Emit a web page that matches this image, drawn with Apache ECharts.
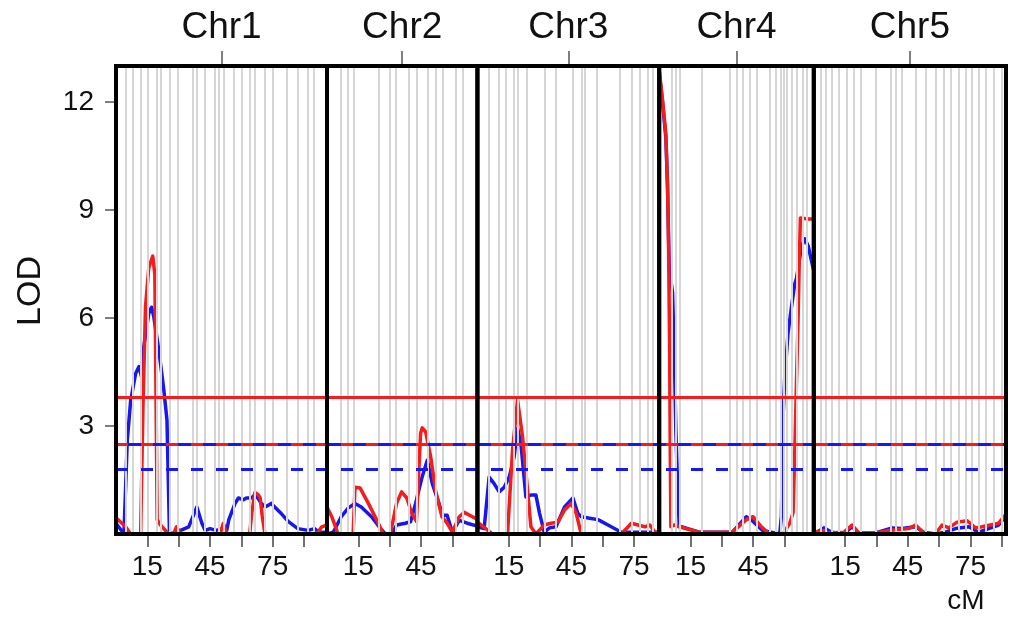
<!DOCTYPE html>
<html>
<head>
<meta charset="utf-8">
<script src="https://cdn.jsdelivr.net/npm/echarts@6/dist/echarts.min.js"></script>
<style>
  html, body { margin: 0; padding: 0; background: #fff; }
  #chart { width: 1012px; height: 617px; }
</style>
</head>
<body>
<div id="chart"></div>
<script>
// Chromosomes and their genetic lengths (cM)
const chrNames = ['Chr1', 'Chr2', 'Chr3', 'Chr4', 'Chr5'];
const chrLengths = [101, 72, 87, 74, 92];

// Axis ticks
const cmTicks = [15, 30, 45, 60, 75, 90];
const cmLabels = [15, 45, 75];
const lodTicks = [3, 6, 9, 12];
const lodMax = 13;

// Significance thresholds: [solid, dashed]
const thresholdsRed = [3.8, 2.5];
const thresholdsBlue = [2.5, 1.8];

// Marker positions (cM) per chromosome
const markersChr1 = [4.6, 8.1, 11.8, 15.4, 19.7, 21.6, 25.6, 29.5, 36.8, 38.7, 42.4, 47.5, 49.4, 51.4, 56.2, 60.1, 64.1, 66.2, 71.3, 75.2, 81.6, 87.1, 91.9, 94.8];
const markersChr2 = [6.6, 9.8, 13, 25, 29.8, 32.7, 39.1, 43.1, 48, 52, 55.2, 61.4, 64.9];
const markersChr3 = [5.6, 10.4, 13.6, 17.6, 19.2, 23.7, 32, 37.6, 45.7, 49.7, 51.3, 56.9, 68.1, 73.7, 77.8, 81.7, 84.1];
const markersChr4 = [6.1, 8, 10, 20.5, 34, 37.2, 40, 43.3, 46.8, 52.9, 55.8, 58, 59.6, 61.2, 63.3, 65.7, 68.9, 70.8];
const markersChr5 = [3.2, 5.6, 8.8, 12, 15.9, 19.1, 22.3, 29.5, 36.7, 39.1, 42.2, 48.7, 53.4, 58.2, 62.2, 65.4, 69.4, 72.6, 75.8, 79, 82.2, 86.1, 90.1];

// LOD profiles, [cM, LOD]
const blueChr1 = [[0,0.3],[3.8,0],[5.4,2.6],[7,3.7],[9.4,4.46],[11,4.65],[12.2,4.37],[13.3,5.2],[15.7,6.13],[17,6.3],[18.1,6.03],[20.5,5.1],[22.9,4.0],[24.4,3.16],[25.6,0],[29,0.05],[34.8,0.2],[38.7,0.75],[41.1,0.3],[42.7,0.1],[45,0.15],[48,0.1],[51,0.15],[53,0.1],[54,0.4],[57,0.85],[58.6,1.0],[61,0.95],[62.4,1.0],[64.8,1.0],[66.7,1.1],[69.5,0.85],[71.4,0.75],[74.3,0.85],[78.6,0.6],[82.4,0.35],[87,0.15],[92,0.1],[95,0.15],[97,0.05],[101,0.05]];
const redChr1 = [[0,0.45],[4.6,0.2],[7,0],[11.8,0],[12.9,3.5],[14.1,6.3],[15.7,7.4],[17.6,7.72],[18.6,7.2],[18.9,5.4],[19.7,0.4],[21.3,0.25],[25.2,0],[27.5,0],[29,0.2],[31,0],[49.8,0],[51.4,0.3],[53,0],[64,0],[65,0.6],[66.5,1.15],[68,1.1],[69,1.0],[70,0.5],[71.3,0],[96,0],[98.5,0.2],[101,0.25]];

const blueChr2 = [[0,0],[3,0.05],[6.8,0.48],[10.1,0.72],[13.4,0.85],[16.4,0.75],[21.3,0.48],[25.5,0.16],[27.9,0],[31,0],[33.3,0.25],[37.5,0.3],[40,0.34],[42.4,0.85],[45.6,1.6],[48,2.05],[50.4,1.4],[53.6,0.85],[55.3,0.52],[57.5,0.52],[60,0.05],[63.3,0.38],[67.1,0.3],[72,0.22]];
const redChr2 = [[0,0.75],[2.5,0.45],[5.3,0],[12.5,0],[13.4,1.3],[15.8,1.28],[19.8,0.85],[23.7,0.4],[27,0],[30.3,0],[33.3,0.85],[35.7,1.17],[38.2,1.0],[40.6,0.57],[42.8,0.35],[44.8,2.8],[45.6,2.95],[47.2,2.84],[49.6,2.15],[52,1.2],[55,0.48],[57.5,0.3],[60,0.05],[63.3,0.48],[65.7,0.6],[69.6,0.48],[72,0.4]];

const blueChr3 = [[0,0.2],[3.2,0.15],[5.6,1.58],[8,1.4],[10.4,1.17],[12.8,1.3],[15.2,1.58],[17.6,2.15],[19.2,2.94],[20.8,2.52],[23.2,1.03],[25.6,1.08],[28,1.08],[29.7,0.58],[32,0.05],[34.5,0.17],[37.6,0.2],[41.7,0.75],[45.7,1.0],[48,0.58],[49.7,0.48],[53.7,0.44],[57.7,0.4],[62.5,0.25],[68.9,0.05],[80,0.05],[87,0.05]];
const redChr3 = [[0,0.33],[4,0.15],[7.2,0],[14.4,0],[16.8,2.33],[19.2,3.72],[21.6,2.7],[24,1.22],[25.6,0.2],[28,0],[32,0.25],[35.2,0.3],[38.5,0.33],[41.7,0.67],[44.9,0.85],[47.3,0.57],[49.7,0],[68.9,0],[73.7,0.3],[76.9,0.25],[80.1,0.2],[82.5,0.25],[85,0.05],[87,0.05]];

const blueChr4 = [[0,12.8],[1.6,12.0],[3.2,11.0],[4,9.6],[4.8,7.4],[6.4,6.7],[7.2,5.1],[8,2.8],[8.8,1.4],[9.6,0.2],[11,0.2],[19.2,0.05],[35,0.05],[41.7,0.48],[44.9,0.35],[49.5,0.1],[57.7,0],[58.5,0.5],[59.3,3.25],[60.1,4.36],[61.7,5.6],[63.3,6.3],[64.9,6.95],[65.7,7.1],[68.1,7.98],[69.7,8.2],[71.3,8.0],[74,7.3]];
const redChr4 = [[0,12.9],[1.6,12.05],[3.2,11.1],[4,9.7],[4.5,7.9],[5.0,5.1],[5.3,2.3],[5.6,0.2],[7.2,0.25],[9.6,0.2],[19.2,0.05],[35,0.05],[41.7,0.4],[44.9,0.48],[48.9,0.2],[52.9,0],[59.3,0],[62.5,0.3],[64.1,0.6],[64.9,2.3],[65.7,4.2],[66.5,6.0],[67.1,7.7],[67.6,8.78],[71.2,8.75],[72.1,8.8],[74,8.75]];

const blueChr5 = [[0,0],[0.8,0],[4.8,0.17],[8.6,0.05],[14.4,0],[18.3,0.2],[21.5,0.03],[29.5,0.03],[37.5,0.17],[42.1,0.15],[48.7,0.2],[52.6,0.05],[58.2,0],[63,0.05],[67.8,0.15],[74.2,0.2],[78.9,0.05],[83.7,0.15],[88.5,0.25],[92,0.5]];
const redChr5 = [[0,0.05],[4.8,0.1],[6.5,0.03],[14.4,0.05],[18.3,0.25],[21.5,0.03],[29.5,0.03],[35.9,0.1],[45.5,0.15],[48.7,0.25],[52.6,0.03],[58.2,0],[61.4,0.25],[64.6,0.17],[68.6,0.33],[73.3,0.37],[77.4,0.17],[80.5,0.2],[84.5,0.25],[88.5,0.3],[92,0.55]];

const markers = [markersChr1, markersChr2, markersChr3, markersChr4, markersChr5];
const blueLod = [blueChr1, blueChr2, blueChr3, blueChr4, blueChr5];
const redLod = [redChr1, redChr2, redChr3, redChr4, redChr5];

// Styling
const RED = '#f51c1c';
const BLUE = '#1818ee';
const FONT = '"Liberation Sans", Arial, Helvetica, sans-serif';
const plotLeft = 116, plotRight = 1006, plotTop = 66, plotBottom = 534;
const totalCm = chrLengths.reduce((a, b) => a + b, 0);
const pxPerCm = (plotRight - plotLeft) / totalCm;

const grid = [], xAxis = [], yAxis = [], series = [];
let cum = 0;
chrLengths.forEach((len, i) => {
  const left = plotLeft + cum * pxPerCm;
  cum += len;
  grid.push({
    left: left, top: plotTop, width: len * pxPerCm, height: plotBottom - plotTop,
    show: true, backgroundColor: 'transparent', borderColor: '#000', borderWidth: 4, z: 10
  });
  // bottom cM axis
  xAxis.push({
    gridIndex: i, type: 'value', min: 0, max: len, position: 'bottom',
    axisLine: { show: false }, splitLine: { show: false },
    axisTick: { show: true, length: 13, customValues: cmTicks.filter(v => v < len),
      lineStyle: { color: '#444', width: 1.5 } },
    axisLabel: { show: true, customValues: cmLabels.filter(v => v < len),
      fontSize: 28, fontFamily: FONT, color: '#111', margin: 19 }
  });
  // top chromosome label axis
  xAxis.push({
    gridIndex: i, type: 'value', min: 0, max: len, position: 'top',
    axisLine: { show: false }, splitLine: { show: false },
    axisTick: { show: true, length: 15, customValues: [len / 2],
      lineStyle: { color: '#555', width: 1.5 } },
    axisLabel: { show: true, customValues: [len / 2], formatter: () => chrNames[i],
      fontSize: 37, fontFamily: FONT, color: '#111', margin: 20 }
  });
  yAxis.push({
    gridIndex: i, type: 'value', min: 0, max: lodMax,
    axisLine: { show: false }, splitLine: { show: false },
    axisTick: { show: i === 0, length: 11, customValues: lodTicks,
      lineStyle: { color: '#555', width: 1.5 } },
    axisLabel: { show: i === 0, customValues: lodTicks,
      fontSize: 28, fontFamily: FONT, color: '#111', margin: 22 }
  });
  // marker positions
  series.push({
    type: 'line', xAxisIndex: 2 * i, yAxisIndex: i, data: [], z: 1, silent: true,
    markLine: {
      silent: true, symbol: ['none', 'none'], label: { show: false },
      lineStyle: { color: '#d6d6d6', width: 2, type: 'solid' },
      emphasis: { disabled: true },
      data: markers[i].map(v => ({ xAxis: v }))
    }
  });
  series.push({
    type: 'line', xAxisIndex: 2 * i, yAxisIndex: i, data: blueLod[i], z: 3,
    showSymbol: false, silent: true, lineStyle: { color: BLUE, width: 3.5, join: 'round' }
  });
  series.push({
    type: 'line', xAxisIndex: 2 * i, yAxisIndex: i, data: redLod[i], z: 4,
    showSymbol: false, silent: true, lineStyle: { color: RED, width: 3.5, join: 'round' }
  });
});

// overlay spanning all chromosomes for the threshold lines
grid.push({ left: plotLeft, top: plotTop, width: plotRight - plotLeft, height: plotBottom - plotTop, show: false });
xAxis.push({ gridIndex: 5, type: 'value', min: 0, max: 1, show: false });
yAxis.push({ gridIndex: 5, type: 'value', min: 0, max: lodMax, show: false });
const thr = (value, color, dashed) => ({
  yAxis: value,
  lineStyle: { color: color, width: 3, type: dashed ? [12, 13] : 'solid' }
});
series.push({
  type: 'line', xAxisIndex: 10, yAxisIndex: 5, data: [], z: 6, silent: true,
  markLine: {
    silent: true, symbol: ['none', 'none'], label: { show: false },
    emphasis: { disabled: true },
    data: [
      thr(thresholdsRed[0], RED, false),
      thr(thresholdsBlue[0], BLUE, false),
      thr(thresholdsRed[1], RED, true),
      thr(thresholdsBlue[1], BLUE, true)
    ]
  }
});

const chart = echarts.init(document.getElementById('chart'), null, { renderer: 'canvas' });
chart.setOption({
  animation: false,
  backgroundColor: '#fff',
  grid: grid,
  xAxis: xAxis,
  yAxis: yAxis,
  series: series,
  graphic: [
    { type: 'text', x: 31, y: 291, rotation: Math.PI / 2,
      style: { text: 'LOD', font: '34px ' + FONT, fill: '#111', align: 'center', verticalAlign: 'middle' } },
    { type: 'text', x: 966, y: 601,
      style: { text: 'cM', font: '28px ' + FONT, fill: '#111', align: 'center', verticalAlign: 'middle' } }
  ]
});
</script>
</body>
</html>
